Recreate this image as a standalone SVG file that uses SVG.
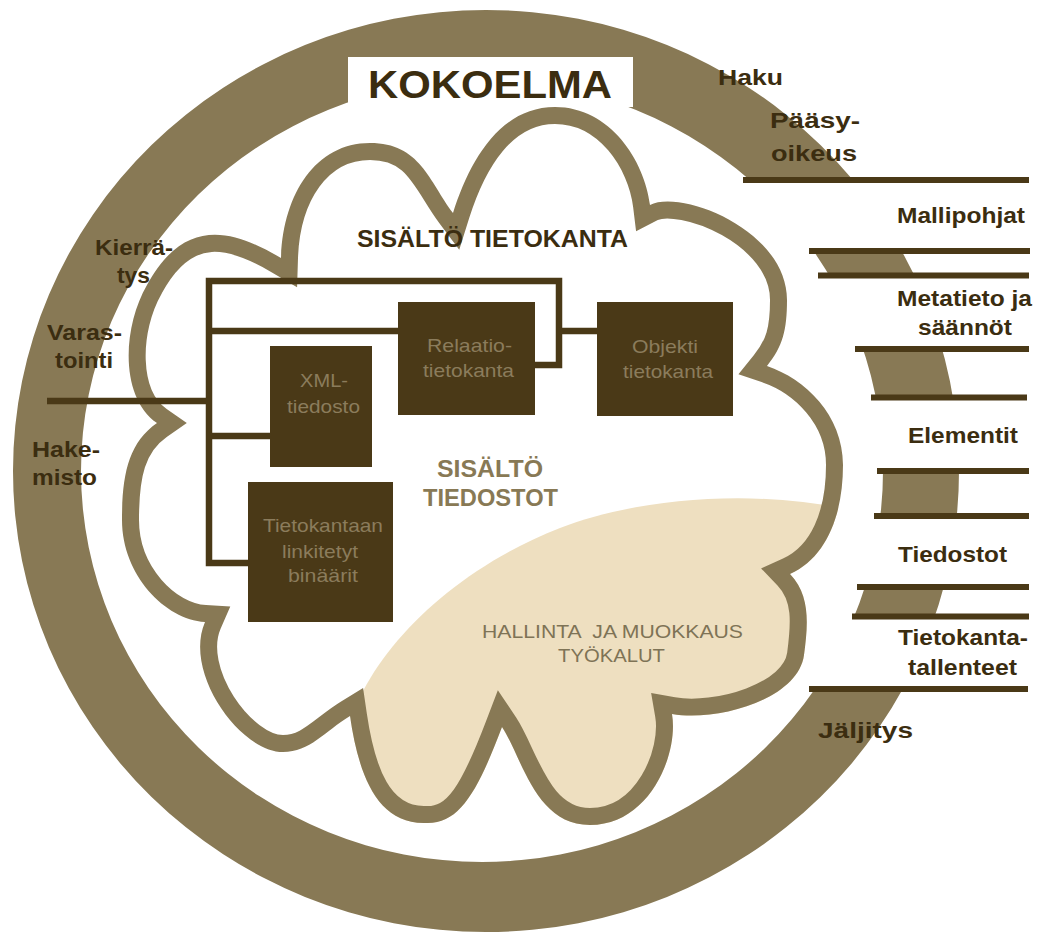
<svg xmlns="http://www.w3.org/2000/svg" width="1041" height="936" viewBox="0 0 1041 936">
<style>
.lbl{font-family:"Liberation Sans",Arial,sans-serif;font-weight:bold;font-size:22px;fill:#3b2d10}
.box{fill:#4a3917}
.bt{font-family:"Liberation Sans",Arial,sans-serif;font-size:19px;fill:#8b7c5c}
.conn{fill:none;stroke:#4a3917;stroke-width:6.5;stroke-linejoin:miter}
.rl{stroke:#4a3917;stroke-width:6}
.olive{fill:#887955}
</style>
<defs>
<path id="cloudPath" d="M157,423 C120,397.4 122,328.5 147,285 C185,215 234.25,230.5 281,258 C283,195 315,143 370,143 C420,143 429,181 453,213 C469.5,160.75 500,107 555,107 C610,107 644.6,160.5 650,205 C681,189 787,230 787,300 C787,330 782.75,346.5 767,366 C805,378.8 843,415 843,465 C843,515 826.4,557.6 790,574 C810.7,595.6 808,625 804,655 C798,700 716,722 672,714 C678.8,753.6 650,825 590,825 C535,825 522,757 502,727 C478,790 460,825 425,823 C375,824 358,770.5 350,716 C324.5,731.6 310,752 283,752 C240,752 183,672.6 205,622 C165,619.6 122,575 122,520 C122,475 128.3,443 157,423 Z"/>
<clipPath id="cloudClip"><use href="#cloudPath"/></clipPath>
<mask id="ringMask" maskUnits="userSpaceOnUse" x="0" y="0" width="1041" height="936">
<rect x="0" y="0" width="1041" height="936" fill="white"/>
<g fill="black">
<rect x="700" y="181" width="341" height="69"/>
<rect x="700" y="276" width="341" height="72"/>
<rect x="700" y="398" width="341" height="72"/>
<rect x="700" y="517" width="341" height="69"/>
<rect x="700" y="617" width="341" height="71"/>
</g>
</mask>
</defs>
<rect x="0" y="0" width="1041" height="936" fill="#ffffff"/>

<g id="ring" mask="url(#ringMask)">
<path class="olive" fill-rule="evenodd" d="M13,471 A473,461 0 1,0 959,471 A473,461 0 1,0 13,471 Z M81,471 A401,391 0 1,0 883,471 A401,391 0 1,0 81,471 Z"/>
</g>

<g id="kokoelma">
<rect x="348" y="57" width="285" height="50" fill="#ffffff"/>
<text x="368" y="98" class="lbl" style="font-size:38px" textLength="244" lengthAdjust="spacingAndGlyphs">KOKOELMA</text>
</g>

<g id="cloud">
<use href="#cloudPath" fill="#ffffff"/>
<path clip-path="url(#cloudClip)" fill="#eedfc0" d="M345,740 C360,665 440,575 560,528 C640,497 760,488 860,512 L870,870 L330,870 Z"/>
<use href="#cloudPath" fill="none" stroke="#887955" stroke-width="34" stroke-linejoin="miter" stroke-miterlimit="4" clip-path="url(#cloudClip)"/>
<text x="357" y="247" class="lbl" style="font-size:23px" textLength="271" lengthAdjust="spacingAndGlyphs">SISÄLTÖ TIETOKANTA</text>
<text x="437" y="477" class="lbl" style="font-size:23px;fill:#887955" textLength="106" lengthAdjust="spacingAndGlyphs">SISÄLTÖ</text>
<text x="423" y="506" class="lbl" style="font-size:23px;fill:#887955" textLength="135" lengthAdjust="spacingAndGlyphs">TIEDOSTOT</text>
</g>

<g id="hallinta">
<text x="482" y="638" class="bt" style="fill:#7e7356;white-space:pre" xml:space="preserve" textLength="261" lengthAdjust="spacingAndGlyphs">HALLINTA  JA MUOKKAUS</text>
<text x="558" y="662" class="bt" style="fill:#7e7356" textLength="107" lengthAdjust="spacingAndGlyphs">TYÖKALUT</text>
</g>

<g id="connectors">
<path class="conn" d="M248,563 H209 V281 H559 V365 H535"/>
<path class="conn" d="M209,331 H398"/>
<path class="conn" d="M559,331 H597"/>
<path class="conn" d="M47,401 H209"/>
<path class="conn" d="M209,436 H270"/>
</g>

<g id="relaatio">
<rect class="box" x="398" y="302" width="137" height="113"/>
<text class="bt" x="427" y="352" textLength="85" lengthAdjust="spacingAndGlyphs">Relaatio-</text>
<text class="bt" x="423" y="377" textLength="91" lengthAdjust="spacingAndGlyphs">tietokanta</text>
</g>
<g id="objekti">
<rect class="box" x="597" y="302" width="136" height="114"/>
<text class="bt" x="632" y="353" textLength="66" lengthAdjust="spacingAndGlyphs">Objekti</text>
<text class="bt" x="623" y="378" textLength="90" lengthAdjust="spacingAndGlyphs">tietokanta</text>
</g>
<g id="xml">
<rect class="box" x="270" y="346" width="102" height="121"/>
<text class="bt" x="300" y="387" textLength="48" lengthAdjust="spacingAndGlyphs">XML-</text>
<text class="bt" x="287" y="413" textLength="73" lengthAdjust="spacingAndGlyphs">tiedosto</text>
</g>
<g id="binaarit">
<rect class="box" x="248" y="482" width="145" height="140"/>
<text class="bt" x="263" y="532" textLength="120" lengthAdjust="spacingAndGlyphs">Tietokantaan</text>
<text class="bt" x="282" y="558" textLength="76" lengthAdjust="spacingAndGlyphs">linkitetyt</text>
<text class="bt" x="288" y="582" textLength="70" lengthAdjust="spacingAndGlyphs">binäärit</text>
</g>

<g id="right-lines">
<line class="rl" x1="743" y1="180" x2="1029" y2="180"/>
<line class="rl" x1="809" y1="251" x2="1030" y2="251"/>
<line class="rl" x1="818" y1="275.5" x2="1029" y2="275.5"/>
<line class="rl" x1="855" y1="349" x2="1029" y2="349"/>
<line class="rl" x1="871" y1="397.5" x2="1027" y2="397.5"/>
<line class="rl" x1="877" y1="471" x2="1029" y2="471"/>
<line class="rl" x1="874" y1="516" x2="1029" y2="516"/>
<line class="rl" x1="857" y1="587" x2="1029" y2="587"/>
<line class="rl" x1="852" y1="616.5" x2="1029" y2="616.5"/>
<line class="rl" x1="809" y1="689" x2="1028" y2="689"/>
</g>

<g id="labels">
<text class="lbl" x="718" y="85" textLength="65" lengthAdjust="spacingAndGlyphs">Haku</text>
<text class="lbl" x="770" y="128" textLength="90" lengthAdjust="spacingAndGlyphs">Pääsy-</text>
<text class="lbl" x="771" y="161" textLength="86" lengthAdjust="spacingAndGlyphs">oikeus</text>
<text class="lbl" x="897" y="223" textLength="128" lengthAdjust="spacingAndGlyphs">Mallipohjat</text>
<text class="lbl" x="897" y="306" textLength="135" lengthAdjust="spacingAndGlyphs">Metatieto ja</text>
<text class="lbl" x="918" y="335" textLength="94" lengthAdjust="spacingAndGlyphs">säännöt</text>
<text class="lbl" x="908" y="443" textLength="110" lengthAdjust="spacingAndGlyphs">Elementit</text>
<text class="lbl" x="898" y="562" textLength="109" lengthAdjust="spacingAndGlyphs">Tiedostot</text>
<text class="lbl" x="898" y="645" textLength="130" lengthAdjust="spacingAndGlyphs">Tietokanta-</text>
<text class="lbl" x="908" y="675" textLength="109" lengthAdjust="spacingAndGlyphs">tallenteet</text>
<text class="lbl" x="818" y="738" textLength="95" lengthAdjust="spacingAndGlyphs">Jäljitys</text>
<text class="lbl" x="95" y="255" textLength="78" lengthAdjust="spacingAndGlyphs">Kierrä-</text>
<text class="lbl" x="117" y="283" textLength="33" lengthAdjust="spacingAndGlyphs">tys</text>
<text class="lbl" x="47" y="340" textLength="75" lengthAdjust="spacingAndGlyphs">Varas-</text>
<text class="lbl" x="55" y="368" textLength="58" lengthAdjust="spacingAndGlyphs">tointi</text>
<text class="lbl" x="32" y="457" textLength="68" lengthAdjust="spacingAndGlyphs">Hake-</text>
<text class="lbl" x="32" y="485" textLength="65" lengthAdjust="spacingAndGlyphs">misto</text>
</g>
</svg>
